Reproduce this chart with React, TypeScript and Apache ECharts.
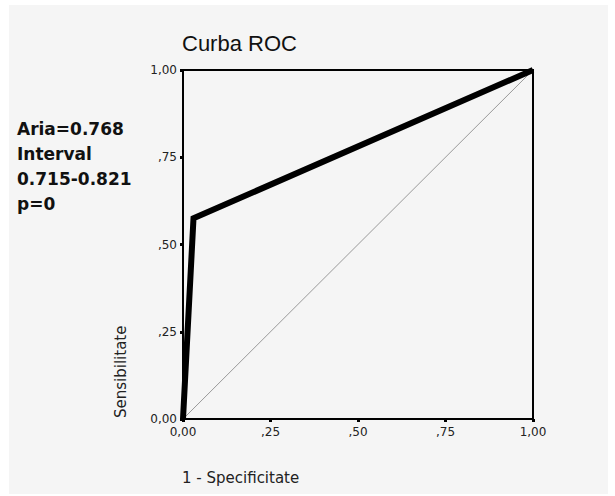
import React, { useEffect, useRef } from "react";
import * as echarts from "echarts";

const rocX = [0, 0.03, 1];
const rocY = [0, 0.575, 1];
const refX = [0, 1];
const refY = [0, 1];
const tickValues = [0, 0.25, 0.5, 0.75, 1];
const tickLabels = ["0,00", ",25", ",50", ",75", "1,00"];
const statsLines = ["Aria=0.768", "Interval", "0.715-0.821", "p=0"];
const titleText = "Curba ROC";
const xName = "1 - Specificitate";
const yName = "Sensibilitate";

const fmt = (v: number) => {
  const i = tickValues.findIndex((t) => Math.abs(t - v) < 1e-6);
  return i >= 0 ? tickLabels[i] : "";
};

export default function App() {
  const ref = useRef<HTMLDivElement>(null);
  useEffect(() => {
    const chart = echarts.init(ref.current!, null, { renderer: "svg" });
    const axisCommon = {
      type: "value",
      min: 0,
      max: 1,
      interval: 0.25,
      axisLine: { show: true, lineStyle: { color: "#000", width: 2 } },
      axisTick: { show: true, length: 3, inside: false, lineStyle: { color: "#000", width: 3 } },
      splitLine: { show: false },
      axisLabel: {
        formatter: fmt,
        color: "#222",
        fontFamily: "DejaVu Sans",
        fontSize: 12,
      },
    };
    chart.setOption({
      animation: false,
      backgroundColor: "#ffffff",
      grid: {
        left: 183,
        top: 70,
        width: 350,
        height: 349,
        show: true,
        borderColor: "#000",
        borderWidth: 2,
        backgroundColor: "transparent",
        outerBoundsMode: "none",
      },
      xAxis: { ...axisCommon, axisLabel: { ...axisCommon.axisLabel, margin: 7 } },
      yAxis: { ...axisCommon, axisLabel: { ...axisCommon.axisLabel, margin: 6 } },
      graphic: [
        {
          type: "rect",
          z: -10,
          silent: true,
          shape: { x: 9, y: 5, width: 599, height: 489 },
          style: { fill: "#f5f5f5" },
        },
        {
          type: "text",
          x: 182,
          y: 43,
          style: {
            text: titleText,
            font: "22px 'Liberation Sans'",
            fill: "#111",
            textAlign: "left",
            textVerticalAlign: "middle",
          },
        },
        ...statsLines.map((t, i) => ({
          type: "text",
          x: 17,
          y: 129 + i * 25,
          style: {
            text: t,
            font: "bold 17px 'DejaVu Sans'",
            fill: "#111",
            textAlign: "left",
            textVerticalAlign: "middle",
          },
        })),
        {
          type: "text",
          x: 182,
          y: 478,
          style: {
            text: xName,
            font: "15px 'DejaVu Sans'",
            fill: "#222",
            textAlign: "left",
            textVerticalAlign: "middle",
          },
        },
        {
          type: "text",
          x: 121,
          y: 418,
          rotation: Math.PI / 2,
          style: {
            text: yName,
            font: "15px 'DejaVu Sans'",
            fill: "#222",
            textAlign: "left",
            textVerticalAlign: "middle",
          },
        },
      ],
      series: [
        {
          type: "line",
          data: refX.map((x, i) => [x, refY[i]]),
          showSymbol: false,
          lineStyle: { color: "#999", width: 1 },
          z: 2,
        },
        {
          type: "line",
          data: rocX.map((x, i) => [x, rocY[i]]),
          showSymbol: false,
          lineStyle: { color: "#000", width: 6, join: "miter" },
          z: 3,
        },
      ],
    });
    return () => chart.dispose();
  }, []);
  return (
    <div
      ref={ref}
      style={{ position: "absolute", left: 0, top: 0, width: 615, height: 496 }}
    />
  );
}
